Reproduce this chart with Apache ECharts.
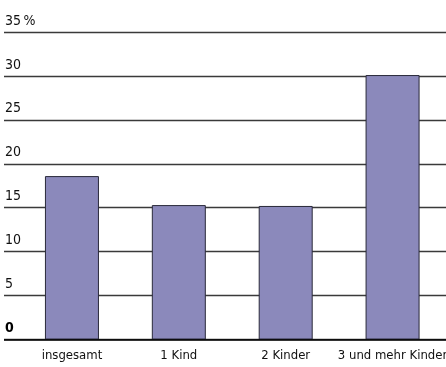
<!DOCTYPE html>
<html>
<head>
<meta charset="utf-8">
<script src="https://cdn.jsdelivr.net/npm/echarts@6/dist/echarts.min.js"></script>
<style>
html,body{margin:0;padding:0;background:#fff;}
#chart{width:446px;height:367px;}
</style>
</head>
<body>
<div id="chart"></div>
<script>
// Anteil nach Zahl der Kinder (in %)
var categories = ['insgesamt', '1 Kind', '2 Kinder', '3 und mehr Kinder'];
var values = [18.6, 15.3, 15.2, 30.1];
var yTicks = [0, 5, 10, 15, 20, 25, 30, 35];

var FONT = '"Liberation Sans Narrow", "DejaVu Sans Condensed", "Noto Sans", sans-serif';
var chart = echarts.init(document.getElementById('chart'), null, {renderer: 'canvas'});

chart.setOption({
  animation: false,
  grid: [
    {left: 18.5, right: 0, top: 32, bottom: 27.5, containLabel: false, outerBoundsMode: 'none'},
    {left: 4, right: 0, top: 32, bottom: 27.5, containLabel: false, outerBoundsMode: 'none'}
  ],
  xAxis: [
    {
      gridIndex: 0,
      type: 'category',
      data: categories,
      axisLine: {show: false},
      axisTick: {show: false},
      axisLabel: {interval: 0, hideOverlap: false, color: '#111', fontFamily: FONT, fontSize: 13, margin: 10}
    },
    {
      gridIndex: 1,
      type: 'value',
      show: false
    }
  ],
  yAxis: [
    {
      gridIndex: 0,
      type: 'value',
      min: 0, max: yTicks[yTicks.length - 1], interval: 5,
      show: false,
      splitLine: {show: false}
    },
    {
      gridIndex: 1,
      type: 'value',
      min: 0, max: yTicks[yTicks.length - 1], interval: 5,
      axisLine: {show: false},
      axisTick: {show: false},
      splitLine: {show: true, lineStyle: {color: '#3a3a3a', width: 1.3}},
      axisLabel: {
        inside: true,
        margin: 1,
        verticalAlign: 'bottom',
        padding: [0, 0, 4, 0],
        color: '#111',
        fontFamily: FONT,
        fontSize: 14,
        formatter: function (v) {
          if (v === 0) return '{b|0}';
          if (v === yTicks[yTicks.length - 1]) return v + '\u2009%';
          return String(v);
        },
        rich: {
          b: {fontWeight: 'bold', fontFamily: FONT, fontSize: 14, color: '#000'}
        }
      }
    }
  ],
  series: [
    {
      type: 'bar',
      xAxisIndex: 0,
      yAxisIndex: 0,
      data: values,
      barWidth: 54,
      itemStyle: {color: '#8b89bb', borderColor: '#2a2a3a', borderWidth: 1}
    },
    {
      // baseline at 0
      type: 'line',
      xAxisIndex: 1,
      yAxisIndex: 1,
      data: [],
      markLine: {
        silent: true,
        symbol: 'none',
        label: {show: false},
        lineStyle: {color: '#000', width: 1.5, type: 'solid'},
        data: [{yAxis: 0}]
      }
    }
  ]
});
</script>
</body>
</html>
